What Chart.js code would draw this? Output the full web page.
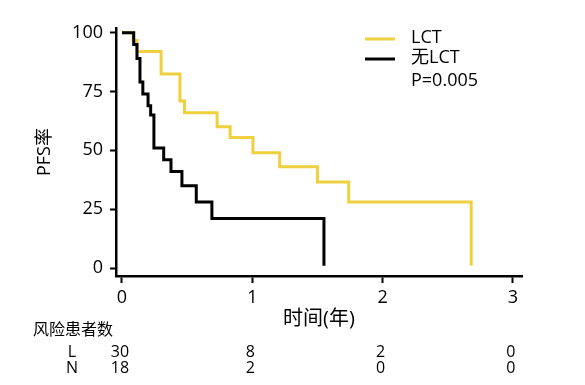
<!DOCTYPE html>
<html>
<head>
<meta charset="utf-8">
<script src="https://cdn.jsdelivr.net/npm/chart.js@4.4.1/dist/chart.umd.min.js"></script>
<style>
  body { margin: 0; background: #fff; }
  #wrap { width: 585px; height: 385px; }
</style>
</head>
<body>
<div id="wrap"><canvas id="canvas" width="585" height="385"></canvas></div>
<script>
// 时间(年) 与 PFS率
var lctTime = [0, 0.085, 0.115, 0.30, 0.445, 0.48, 0.73, 0.83, 1.005, 1.21, 1.50, 1.74, 2.68];
var lctPFS = [100, 96.7, 92, 82.5, 71, 66, 60, 55.5, 49, 43, 36.5, 28, 1];
var noLctTime = [0, 0.09, 0.115, 0.138, 0.16, 0.20, 0.22, 0.245, 0.32, 0.376, 0.46, 0.57, 0.69, 1.55];
var noLctPFS = [100, 95, 89, 79, 74, 69, 65, 51, 46, 41, 35, 28, 21, 1];

var xTicks = [0, 1, 2, 3];
var yTicks = [0, 25, 50, 75, 100];

// 风险患者数
var riskTimes = [0, 1, 2, 3];
var riskLabels = ['L', 'N'];
var riskLCT = [30, 8, 2, 0];
var riskNoLCT = [18, 2, 0, 0];
var pText = 'P=0.005';

var FONT = '"Open Sans", "Noto Sans CJK SC", sans-serif';
Chart.defaults.font.family = FONT;
Chart.defaults.color = '#000';

function toPoints(xs, ys) {
    return xs.map(function (t, i) { return { x: t, y: ys[i] }; });
}

/**
 * 图例、P值和风险表
 */
var extras = {
    id: 'extras',
    afterDraw: function (chart) {
        var ctx = chart.ctx;
        var xs = chart.scales.x;
        ctx.save();
        ctx.fillStyle = '#000';
        ctx.textBaseline = 'middle';

        // 图例
        ctx.font = '18px ' + FONT;
        ctx.textAlign = 'left';
        var legendY = [39, 59];
        chart.data.datasets.forEach(function (ds, i) {
            ctx.strokeStyle = ds.borderColor;
            ctx.lineWidth = 3;
            ctx.beginPath();
            ctx.moveTo(365, legendY[i]);
            ctx.lineTo(395, legendY[i]);
            ctx.stroke();
            ctx.fillText(ds.label, 411, legendY[i] - 1);
        });
        ctx.fillText(pText, 411, 81);

        // 风险表
        ctx.font = '16px ' + FONT;
        ctx.fillText('风险患者数', 33, 330);
        ctx.textAlign = 'center';
        var rows = [riskLCT, riskNoLCT];
        var rowY = [352, 368];
        rows.forEach(function (row, r) {
            ctx.fillText(riskLabels[r], 72, rowY[r]);
            row.forEach(function (n, i) {
                ctx.fillText(String(n), xs.getPixelForValue(riskTimes[i]) - 2, rowY[r]);
            });
        });
        ctx.restore();
    }
};

var chart = new Chart(document.getElementById('canvas'), {
    type: 'line',
    data: {
        datasets: [{
            label: 'LCT',
            data: toPoints(lctTime, lctPFS),
            borderColor: '#EFD03E',
            borderWidth: 3,
            stepped: true,
            pointRadius: 0,
            order: 1
        }, {
            label: '无LCT',
            data: toPoints(noLctTime, noLctPFS),
            borderColor: '#000000',
            borderWidth: 3,
            stepped: true,
            pointRadius: 0,
            order: 0
        }]
    },
    options: {
        responsive: false,
        animation: false,
        layout: { padding: { left: 0, right: 63, top: 28, bottom: 0 } },
        plugins: {
            legend: { display: false },
            tooltip: { enabled: false }
        },
        scales: {
            x: {
                type: 'linear',
                min: -0.046,
                max: 3.07,
                afterBuildTicks: function (scale) {
                    scale.ticks = xTicks.map(function (v) { return { value: v }; });
                },
                afterFit: function (scale) { scale.height = 109; },
                border: { color: '#000', width: 2.5 },
                grid: { drawOnChartArea: false, tickLength: 7, tickWidth: 2, tickColor: '#000' },
                ticks: { font: { size: 18 }, padding: 4, maxRotation: 0 },
                title: {
                    display: true,
                    text: '时间(年)',
                    font: { size: 20 },
                    padding: { top: 0, bottom: 54 }
                }
            },
            y: {
                min: -3.4,
                max: 102,
                afterBuildTicks: function (scale) {
                    scale.ticks = yTicks.map(function (v) { return { value: v }; });
                },
                afterFit: function (scale) { scale.width = 116; },
                border: { color: '#000', width: 2.5 },
                grid: { drawOnChartArea: false, tickLength: 6, tickWidth: 2, tickColor: '#000' },
                ticks: { font: { size: 18 }, padding: 7 },
                title: {
                    display: true,
                    text: 'PFS率',
                    font: { size: 18 },
                    padding: { top: 34, bottom: 0 }
                }
            }
        }
    },
    plugins: [extras]
});
</script>
</body>
</html>
